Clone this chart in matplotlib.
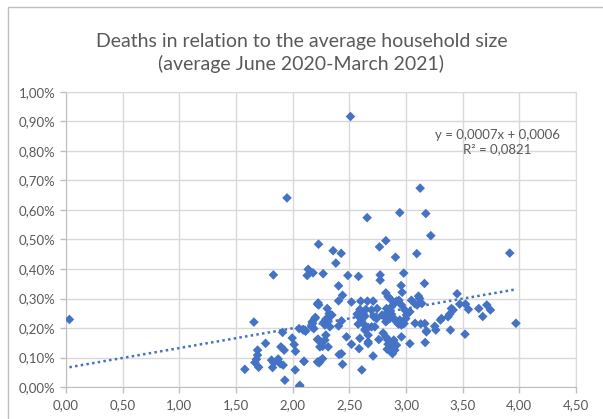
import numpy as np
import matplotlib
matplotlib.use("Agg")
import matplotlib.pyplot as plt
from matplotlib.ticker import FuncFormatter, MultipleLocator
from matplotlib.patches import Rectangle

# average household size (x) and deaths in % of population (y)
household_size = [
    0.03, 1.95, 2.51, 1.83, 3.915, 3.97,
    1.658, 1.761, 1.69, 1.69, 1.68, 1.667, 1.70, 1.578, 1.814, 1.872, 1.834, 1.89,
    1.916, 1.823, 1.911, 1.896, 1.925, 1.931, 1.996, 2.013, 2.025, 2.022, 2.061,
    2.057, 2.093, 2.114, 2.101, 2.175, 2.187, 2.20, 2.219, 2.219, 2.219,
    2.137, 2.128, 2.18, 2.228, 2.269, 2.357, 2.428, 2.381, 2.487, 2.581, 2.657,
    2.766, 2.822, 2.772, 2.772, 2.907, 2.945, 2.98, 3.095, 3.125, 3.175, 3.219,
    2.405, 2.957, 3.163,
    2.44, 2.405, 2.822, 2.842, 2.863, 2.966, 3.11, 3.451,
    2.225, 2.23, 2.305, 2.322, 2.346, 2.519, 2.601, 2.66, 2.71, 2.593, 2.646,
    2.696, 2.745, 2.789, 2.828, 2.842, 2.872, 2.895, 2.916, 2.937, 2.96, 2.99,
    3.034, 3.004, 3.048, 3.077, 3.098, 3.304, 3.313, 3.401, 3.416, 3.386, 3.371,
    3.474, 3.525, 3.551, 3.642, 3.677, 3.713, 3.745, 3.12, 3.14,
    2.108, 2.196, 2.172, 2.328, 2.31, 2.293, 2.278, 2.431, 2.405, 2.586, 2.608,
    2.578, 2.622, 2.646, 2.666, 2.696, 2.637, 2.569, 2.622, 2.716, 2.74, 2.813,
    2.834, 2.857, 2.822, 2.872, 2.895, 2.916, 2.945, 2.934, 2.96, 2.983, 2.998,
    3.08, 3.13, 3.166, 3.181, 3.254, 3.263, 3.392, 3.521, 3.18, 2.725, 2.637,
    2.284, 2.167,
    2.225, 2.249, 2.264, 2.24, 2.284, 2.293, 2.313, 2.475, 2.519, 2.593, 2.586,
    2.666, 2.666, 2.76, 2.798, 2.822, 2.840, 2.842, 2.863, 2.892, 2.916, 2.886,
    2.857, 2.881, 2.834, 2.901, 2.96, 3.034, 3.169, 2.666,
    2.099, 2.24, 2.264, 2.234, 2.41, 2.431, 2.44, 2.71, 2.61, 2.063,
]
deaths_pct = [
    0.229, 0.641, 0.917, 0.380, 0.454, 0.216,
    0.220, 0.148, 0.125, 0.108, 0.094, 0.083, 0.067, 0.060, 0.091, 0.095, 0.082, 0.079,
    0.074, 0.066, 0.185, 0.136, 0.125, 0.023, 0.166, 0.144, 0.121, 0.058, 0.002,
    0.198, 0.193, 0.189, 0.087, 0.215, 0.198, 0.236, 0.281, 0.161, 0.085,
    0.399, 0.378, 0.387, 0.484, 0.384, 0.462, 0.453, 0.420, 0.378, 0.375, 0.574,
    0.475, 0.496, 0.380, 0.362, 0.440, 0.591, 0.386, 0.452, 0.674, 0.588, 0.513,
    0.343, 0.344, 0.351,
    0.311, 0.292, 0.319, 0.306, 0.298, 0.321, 0.308, 0.316,
    0.285, 0.278, 0.266, 0.249, 0.244, 0.288, 0.291, 0.291, 0.291, 0.263, 0.263,
    0.261, 0.266, 0.244, 0.266, 0.255, 0.272, 0.283, 0.291, 0.294, 0.278, 0.261,
    0.255, 0.244, 0.294, 0.283, 0.278, 0.227, 0.232, 0.266, 0.261, 0.247, 0.238,
    0.281, 0.281, 0.263, 0.266, 0.239, 0.278, 0.261, 0.300, 0.283,
    0.193, 0.232, 0.221, 0.204, 0.227, 0.230, 0.221, 0.224, 0.207, 0.238, 0.227,
    0.213, 0.215, 0.198, 0.202, 0.204, 0.240, 0.247, 0.249, 0.238, 0.232, 0.238,
    0.227, 0.232, 0.221, 0.247, 0.232, 0.221, 0.227, 0.213, 0.210, 0.215, 0.232,
    0.216, 0.214, 0.215, 0.190, 0.206, 0.193, 0.193, 0.179, 0.187, 0.204, 0.193,
    0.210, 0.204,
    0.162, 0.153, 0.138, 0.136, 0.159, 0.176, 0.136, 0.170, 0.145, 0.165, 0.130,
    0.176, 0.147, 0.161, 0.183, 0.170, 0.159, 0.145, 0.153, 0.159, 0.142, 0.138,
    0.125, 0.113, 0.128, 0.125, 0.170, 0.147, 0.151, 0.153,
    0.087, 0.088, 0.096, 0.082, 0.110, 0.113, 0.077, 0.105, 0.058, 0.006,
]

# linear trendline
trend_slope = 0.00067
trend_intercept = 0.00065
trend_label = "y = 0,0007x + 0,0006\nR² = 0,0821"

title = "Deaths in relation to the average household size\n(average June 2020-March 2021)"

x = np.array(household_size)
y = np.array(deaths_pct) / 100.0

plt.rcParams['font.family'] = ['Lato', 'DejaVu Sans']
grey_txt = '#595959'
grid_c = '#D9D9D9'
blue = '#4472C4'

fig = plt.figure(figsize=(6.03, 4.19), dpi=100)
fig.patches.append(Rectangle((8 / 603, -0.1), 1.2, 1.1 - 7 / 419, transform=fig.transFigure,
                             fill=False, edgecolor='#BFBFBF', linewidth=1))
ax = fig.add_axes([66 / 603, 1 - 387 / 419, 510 / 603, 295 / 419])

ax.scatter(x, y, marker='D', s=24, color=blue, edgecolors='none', zorder=3)

xt = np.array([x.min(), x.max()])
ax.plot(xt, trend_slope * xt + trend_intercept, color=blue, lw=1.8,
        linestyle=(0, (1, 1.3)), zorder=2)

ax.text(3.805, 0.0083, trend_label, ha='center', va='center', fontsize=9.5,
        color=grey_txt, linespacing=1.25)

ax.set_xlim(0, 4.5)
ax.set_ylim(0, 0.01)
ax.xaxis.set_major_locator(MultipleLocator(0.5))
ax.yaxis.set_major_locator(MultipleLocator(0.001))
ax.xaxis.set_major_formatter(FuncFormatter(lambda v, p: f"{v:.2f}".replace('.', ',')))
ax.yaxis.set_major_formatter(FuncFormatter(lambda v, p: f"{v * 100:.2f}%".replace('.', ',')))

ax.grid(True, color=grid_c, linewidth=1)
ax.set_axisbelow(True)
for side in ['top', 'right']:
    ax.spines[side].set_color(grid_c)
for side in ['left', 'bottom']:
    ax.spines[side].set_color('#BFBFBF')
ax.tick_params(colors='#BFBFBF', labelcolor=grey_txt, labelsize=9.5, length=4, width=1)
ax.tick_params(axis='x', pad=5)

fig.text(0.5, 1 - 53 / 419, title, ha='center', va='center', fontsize=14,
         color=grey_txt, linespacing=1.3)

fig.savefig('out.png', dpi=100)
